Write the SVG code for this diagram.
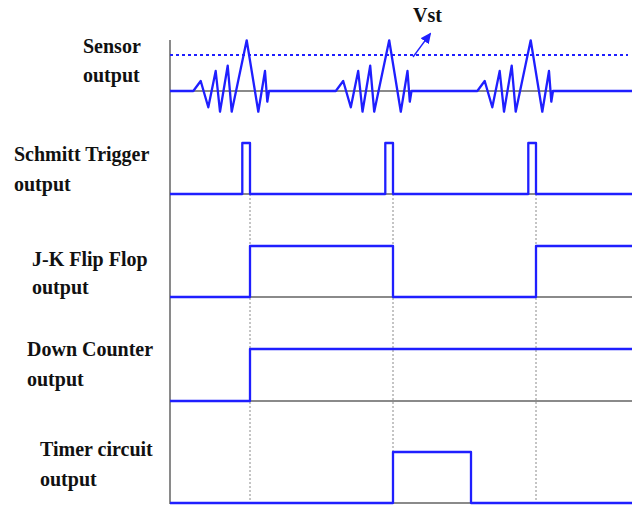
<svg xmlns="http://www.w3.org/2000/svg" width="636" height="506" viewBox="0 0 636 506">
<style>
.lbl{font-family:"Liberation Serif","Times New Roman",serif;font-weight:bold;font-size:20px;fill:#111}
.sig{fill:none;stroke:#1f1fff;stroke-width:2.3;stroke-linejoin:round}
.base{stroke:#8a8a8a;stroke-width:2;fill:none}
.guide{stroke:#8a8a8a;stroke-width:1;stroke-dasharray:2,2;fill:none}
.vst{stroke:#1f1fff;stroke-width:2;stroke-dasharray:3,3;fill:none}
</style>
<defs>
<marker id="ah" markerWidth="11" markerHeight="10" refX="9" refY="5" orient="auto" markerUnits="userSpaceOnUse">
<path d="M0,0 L11,5 L0,10 Z" fill="#1f1fff"/>
</marker>
</defs>
<rect width="636" height="506" fill="#fff"/>
<g id="axes">
<line class="base" x1="170" y1="40" x2="170" y2="504"/>
<line class="base" x1="170" y1="91" x2="632" y2="91"/>
<line class="base" x1="170" y1="194" x2="632" y2="194"/>
<line class="base" x1="170" y1="297" x2="632" y2="297"/>
<line class="base" x1="170" y1="401" x2="632" y2="401"/>
<line class="base" x1="170" y1="503" x2="632" y2="503"/>
</g>
<g id="connectors">
<line class="guide" x1="250" y1="194" x2="250" y2="503"/>
<line class="guide" x1="393" y1="194" x2="393" y2="503"/>
<line class="guide" x1="536" y1="194" x2="536" y2="503"/>
</g>
<g id="sensor">
<text class="lbl" x="83" y="53">Sensor</text>
<text class="lbl" x="83" y="82">output</text>
<line class="vst" x1="170" y1="55" x2="628" y2="55"/>
<polyline class="sig" points="170,91 193.3,91 200.7,81 208.3,107.3 215.7,71 220,111.7 227.7,65.7 231.7,111.7 246.7,40.3 258.3,111.7 265,71 267.3,101.7 269,91 335.8,91 343.2,81 350.8,107.3 358.2,71 362.5,111.7 370.2,65.7 374.2,111.7 389.2,40.3 400.8,111.7 407.5,71 409.8,101.7 411.5,91 477.3,91 484.7,81 492.3,107.3 499.7,71 504,111.7 511.7,65.7 515.7,111.7 530.7,40.3 542.3,111.7 549,71 551.3,101.7 553,91 632,91"/>
</g>
<g id="vst">
<line x1="413" y1="57" x2="430" y2="34" stroke="#1f1fff" stroke-width="1.3" marker-end="url(#ah)"/>
<text class="lbl" x="413" y="22">Vst</text>
</g>
<g id="schmitt">
<text class="lbl" x="14" y="161">Schmitt Trigger</text>
<text class="lbl" x="14" y="191">output</text>
<polyline class="sig" points="170,194 242.3,194 242.3,143 250,143 250,194 385.3,194 385.3,143 393,143 393,194 528.3,194 528.3,143 536,143 536,194 632,194"/>
</g>
<g id="jkff">
<text class="lbl" x="32" y="266">J-K Flip Flop</text>
<text class="lbl" x="32" y="294">output</text>
<polyline class="sig" points="170,297 250,297 250,246 393,246 393,297 536,297 536,246 632,246"/>
</g>
<g id="downcounter">
<text class="lbl" x="27" y="356">Down Counter</text>
<text class="lbl" x="27" y="386">output</text>
<polyline class="sig" points="170,401 250,401 250,349 632,349"/>
</g>
<g id="timer">
<text class="lbl" x="40" y="456">Timer circuit</text>
<text class="lbl" x="40" y="486">output</text>
<polyline class="sig" points="170,503 393,503 393,452 471,452 471,503 632,503"/>
</g>
</svg>
